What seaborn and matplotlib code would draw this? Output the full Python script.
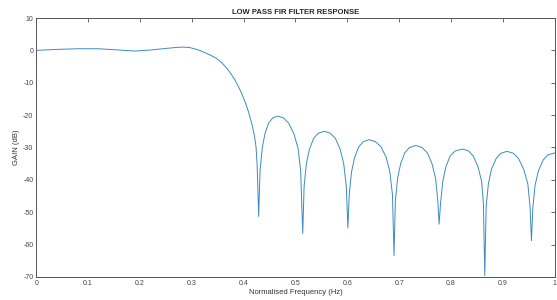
import numpy as np
import pandas as pd
import matplotlib
matplotlib.use("Agg")
import matplotlib.pyplot as plt
import seaborn as sns

# Frequency response (normalised freq, gain in dB)
passband_freq = [0.0, 0.04, 0.08, 0.12, 0.16, 0.19, 0.22, 0.25, 0.27, 0.283, 0.295, 0.305,
                 0.315, 0.325, 0.335, 0.347, 0.357, 0.367, 0.375, 0.383, 0.39, 0.397,
                 0.404, 0.41, 0.416, 0.421, 0.424, 0.426, 0.429]
passband_gain = [0.0, 0.3, 0.5, 0.5, 0.1, -0.2, 0.1, 0.6, 0.9, 1.0, 0.9, 0.5,
                 0.0, -0.7, -1.4, -2.4, -3.7, -5.4, -7.1, -9.1, -11.2, -13.6,
                 -16.4, -19.3, -22.8, -26.5, -30.0, -35.3, -51.3]

stop_freq = [0.4316, 0.4358, 0.441, 0.448, 0.456, 0.466, 0.477, 0.487, 0.497, 0.505, 0.510,
             0.514,
             0.5166, 0.521, 0.527, 0.535, 0.544, 0.556, 0.567, 0.577, 0.586, 0.593, 0.598,
             0.601,
             0.6037, 0.608, 0.614, 0.622, 0.631, 0.642, 0.654, 0.665, 0.675, 0.682, 0.687,
             0.690,
             0.6926, 0.697, 0.703, 0.711, 0.720, 0.732, 0.744, 0.754, 0.763, 0.770, 0.7744,
             0.777,
             0.7796, 0.784, 0.790, 0.798, 0.808, 0.822, 0.834, 0.843, 0.852, 0.859, 0.8624,
             0.865,
             0.8677, 0.872, 0.878, 0.887, 0.896, 0.908, 0.920, 0.930, 0.940, 0.948, 0.9523,
             0.955,
             0.9577, 0.962, 0.9685, 0.9775, 0.9865, 1.0]
stop_gain = [-37.3, -30.3, -25.8, -22.5, -20.9, -20.3, -20.9, -22.5, -25.8, -30.3, -37.3,
             -56.6,
             -42.0, -35.0, -30.5, -27.2, -25.6, -25.0, -25.6, -27.2, -30.5, -35.0, -42.0,
             -54.9,
             -44.6, -37.6, -33.1, -29.8, -28.2, -27.6, -28.2, -29.8, -33.1, -37.6, -44.6,
             -63.4,
             -46.4, -39.4, -34.9, -31.6, -30.0, -29.4, -30.0, -31.6, -34.9, -39.4, -46.4,
             -53.7,
             -47.5, -40.5, -36.0, -32.7, -31.1, -30.5, -31.1, -32.7, -36.0, -40.5, -47.5,
             -69.6,
             -48.2, -41.2, -36.7, -33.4, -31.8, -31.2, -31.8, -33.4, -36.7, -41.2, -48.2,
             -58.8,
             -48.7, -41.7, -37.2, -33.9, -32.3, -31.7]

x_ticks = [0, 0.1, 0.2, 0.3, 0.4, 0.5, 0.6, 0.7, 0.8, 0.9, 1]
x_labels = ["0", "0.1", "0.2", "0.3", "0.4", "0.5", "0.6", "0.7", "0.8", "0.9", "1"]
y_ticks = [10, 0, -10, -20, -30, -40, -50, -60, -70]

df = pd.DataFrame({"freq": passband_freq + stop_freq,
                   "gain": passband_gain + stop_gain})

sns.set_style("white")
plt.rcParams["axes.unicode_minus"] = False
plt.rcParams["font.family"] = ["Liberation Sans", "DejaVu Sans"]

fig = plt.figure(figsize=(5.57, 3.0), dpi=100)
ax = fig.add_axes([0.065, 0.077, 0.931, 0.863])

sns.lineplot(data=df, x="freq", y="gain", ax=ax, color="#3a8cc0",
             linewidth=0.7, sort=False, estimator=None)

ax.set_xlim(0, 1)
ax.set_ylim(-70, 10)
ax.set_xticks(x_ticks)
ax.set_xticklabels(x_labels)
ax.set_yticks(y_ticks)
ax.tick_params(axis="both", direction="in", length=3, width=0.6, labelsize=5,
               colors="#555555", labelcolor="#444444", top=True, right=True, pad=2)
for spine in ax.spines.values():
    spine.set_visible(True)
    spine.set_color("#555555")
    spine.set_linewidth(0.7)

ax.set_title("LOW PASS FIR FILTER RESPONSE", fontsize=5.5, fontweight="bold", pad=3)
ax.set_xlabel("Normalised Frequency (Hz)", fontsize=5.5, color="#333333", labelpad=2)
ax.set_ylabel("GAIN (dB)", fontsize=5.5, color="#333333", labelpad=2)

fig.savefig("out.png", dpi=100)
plt.close(fig)
